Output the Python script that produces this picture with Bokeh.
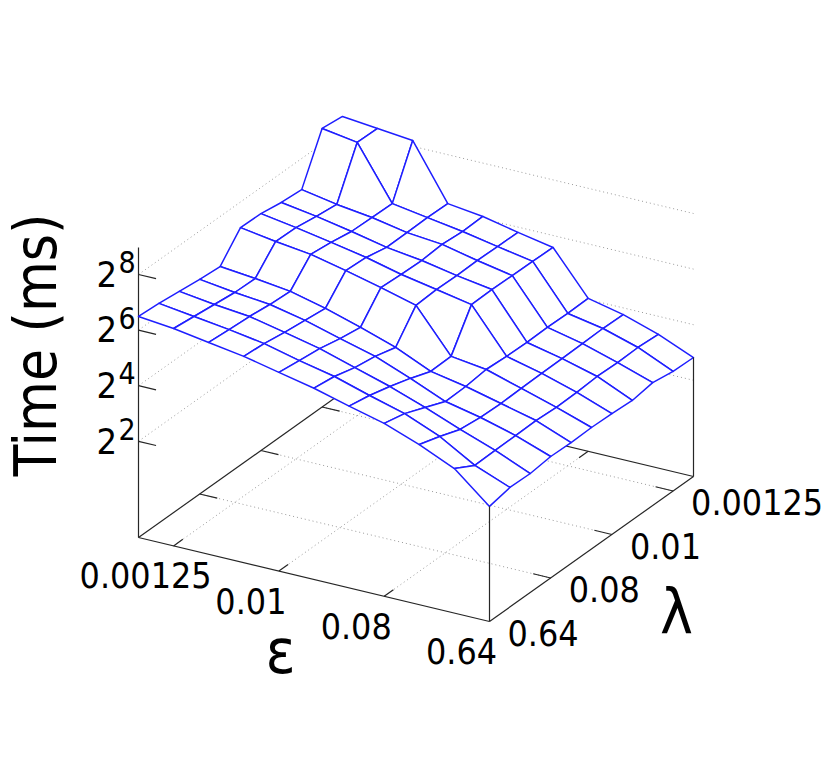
from bokeh.plotting import figure
from bokeh.models import Range1d
from bokeh.core.properties import value
from bokeh.embed import file_html
from bokeh.resources import INLINE

# log2(time in ms); each row is one lambda, from 0.64 (first) to 0.000625 (last);
# each column is one epsilon, from 0.000625 (first) to 0.64 (last)
lam_0_64     = [6.49, 6.36, 6.16, 5.96, 5.69, 5.42, 5.08, 4.76, 4.30, 3.74, 2.68]
lam_0_32     = [6.44, 6.27, 6.10, 5.90, 5.59, 5.32, 4.94, 4.59, 4.07, 3.33, 2.84]
lam_0_16     = [6.35, 6.18, 6.05, 5.78, 5.50, 5.12, 4.74, 4.29, 3.80, 3.35, 2.82]
lam_0_08     = [6.26, 6.09, 5.96, 5.69, 5.34, 5.00, 4.51, 3.98, 3.71, 3.36, 2.91]
lam_0_04     = [6.20, 6.07, 5.91, 5.60, 5.22, 4.80, 4.24, 4.00, 3.69, 3.38, 2.89]
lam_0_02     = [7.08, 6.88, 6.72, 6.44, 6.13, 5.79, 4.26, 4.09, 3.71, 3.33, 2.91]
lam_0_01     = [7.06, 6.86, 6.63, 6.39, 6.08, 5.84, 5.60, 4.04, 3.73, 3.35, 2.89]
lam_0_005    = [6.94, 6.74, 6.50, 6.23, 6.06, 5.82, 5.62, 4.02, 3.74, 3.40, 2.84]
lam_0_0025   = [6.88, 6.65, 6.48, 6.24, 6.12, 5.84, 5.60, 4.04, 3.76, 3.38, 2.96]
lam_0_00125  = [8.56, 8.36, 6.46, 6.26, 6.06, 5.82, 5.59, 4.02, 3.78, 3.40, 2.84]
lam_0_000625 = [8.47, 8.34, 8.21, 6.24, 6.08, 5.81, 5.57, 4.04, 3.76, 3.35, 2.82]
surface = [lam_0_64, lam_0_32, lam_0_16, lam_0_08, lam_0_04, lam_0_02,
           lam_0_01, lam_0_005, lam_0_0025, lam_0_00125, lam_0_000625]

eps_ticks = [(1, "0.00125"), (4, "0.01"), (7, "0.08"), (10, "0.64")]
lam_ticks = [(0, "0.64"), (3, "0.08"), (6, "0.01"), (9, "0.00125")]
z_ticks = [2, 4, 6, 8]
z_min, z_max = -1.46, 8.97
n_eps = n_lam = 11

BLUE = "#1f1fff"
AXIS = "#262626"
GRID = "#9a9a9a"
FONT = value("DejaVu Sans Condensed")
BASE_FIX = 0.38


def proj(i, j, k):
    """Oblique view of (epsilon index, lambda index, log2 time) on the page."""
    return 138 + 35.1 * i + 20.4 * j, 496.4 + 8.4 * i - 14.5 * j - 27.8 * k


p = figure(width=826, height=759, output_backend="svg", toolbar_location=None,
           x_range=Range1d(0, 826), y_range=Range1d(759, 0), min_border=0,
           outline_line_color=None)
p.axis.visible = False
p.grid.visible = False
p.background_fill_color = "white"


def seg(a, b, color=AXIS, width=1.2, dash="solid"):
    p.line([a[0], b[0]], [a[1], b[1]], line_color=color, line_width=width, line_dash=dash)


def dotted(a, b):
    seg(a, b, GRID, 1.0, "1 3")


def label(x, y, text, size, dx=0, dy=0, align="left"):
    p.text([x], [y], text=[text], text_font=FONT, text_font_size=f"{size}px",
           text_color="black", text_align=align, text_baseline="alphabetic",
           x_offset=dx, y_offset=dy - BASE_FIX * size)


# grid on the floor and back walls
for i, _ in eps_ticks[:-1]:
    dotted(proj(i, 0, z_min), proj(i, 10, z_min))
for j, _ in lam_ticks[1:]:
    dotted(proj(0, j, z_min), proj(10, j, z_min))
for k in z_ticks:
    dotted(proj(0, 0, k), proj(0, 10, k))
    dotted(proj(0, 10, k), proj(10, 10, k))

# back edges and z axis
seg(proj(0, 0, z_min), proj(0, 10, z_min))
seg(proj(10, 10, z_min), proj(0, 10, z_min))
seg(proj(0, 0, z_min), proj(0, 0, z_max))
for k in z_ticks:
    seg(proj(0, 0, k), proj(0.5, 0, k))
for j, _ in lam_ticks[1:]:
    seg(proj(0, j, z_min), proj(0.5, j, z_min))
    seg(proj(10, j, z_min), proj(9.5, j, z_min))
for i, _ in eps_ticks[:-1]:
    seg(proj(i, 10, z_min), proj(i, 9.55, z_min))
    seg(proj(i, 0, z_min), proj(i, 0.45, z_min))

# surface, painted from the far corner to the near one
xs, ys = [], []
for j in range(n_lam - 2, -1, -1):
    for i in range(n_eps - 1):
        corners = [(i, j), (i + 1, j), (i + 1, j + 1), (i, j + 1)]
        pts = [proj(a, b, surface[b][a]) for a, b in corners]
        xs.append([q[0] for q in pts])
        ys.append([q[1] for q in pts])
p.patches(xs, ys, fill_color="white", line_color=BLUE, line_width=1.5, line_join="round")

# front edges
seg(proj(0, 0, z_min), proj(10, 0, z_min))
seg(proj(10, 0, z_min), proj(10, 10, z_min))
seg(proj(10, 0, z_min), proj(10, 0, surface[0][10]))
seg(proj(10, 10, z_min), proj(10, 10, surface[10][10]))

# tick labels
for i, s in eps_ticks:
    x, y = proj(i, 0, z_min)
    label(x, y, s, 35.5, dx=-28, dy=43, align="center")
for j, s in lam_ticks:
    x, y = proj(10, j, z_min)
    label(x, y, s, 35.5, dx=18, dy=25)
for k in z_ticks:
    x, y = proj(0, 0, k)
    label(x, y, "2", 36, dx=-42, dy=13)
    label(x, y, str(k), 30, dx=-20, dy=-1)

# axis titles
p.text([57.5], [476], text=["Time (ms)"], text_font=FONT, text_font_size="58px",
       text_align="left", text_baseline="alphabetic", angle=1.5708, text_color="black",
       x_offset=-BASE_FIX * 58)
label(280, 675, "ε", 62, align="center")
label(676, 635, "λ", 62, align="center")

open("out.html", "w").write(file_html(p, INLINE))
